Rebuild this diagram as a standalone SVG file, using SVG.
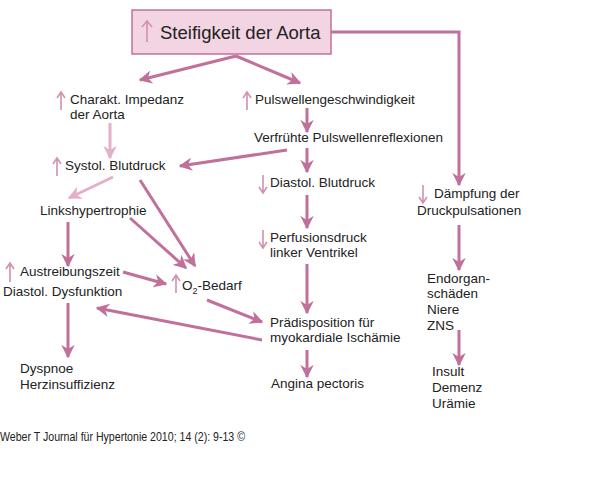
<svg xmlns="http://www.w3.org/2000/svg" width="600" height="487" viewBox="0 0 600 487">
<defs>
<marker id="ah" viewBox="0 0 10 10" refX="9" refY="5" markerWidth="4.5" markerHeight="4.5" orient="auto" markerUnits="strokeWidth"><path d="M0,0 L10,5 L0,10 L3,5 Z" fill="#c0709a"/></marker>
<marker id="ahl" viewBox="0 0 10 10" refX="9" refY="5" markerWidth="4.5" markerHeight="4.5" orient="auto" markerUnits="strokeWidth"><path d="M0,0 L10,5 L0,10 L3,5 Z" fill="#e2b0c8"/></marker>
<style>
text{font-family:"Liberation Sans",Arial,sans-serif;font-size:13.5px;fill:#222}
.c line,.c polyline{stroke:#c0709a;stroke-width:3;fill:none;marker-end:url(#ah)}
.c .l{stroke:#e2b0c8;marker-end:url(#ahl)}
.up,.dn{stroke:#d490b0;stroke-width:1.6;fill:none}
</style>
</defs>
<rect width="600" height="487" fill="#fff"/>
<g id="n-aorta">
<rect x="132" y="10" width="199" height="44" fill="#f2d4e2" stroke="#c0709a" stroke-width="1.5"/>
<path class="up" d="M147,42 V22 M142,27 L147,21 L152,27" stroke-width="2"/>
<text x="160" y="39" style="font-size:18.5px">Steifigkeit der Aorta</text>
</g>
<g id="n-impedanz"><path class="up" d="M61,110 V93 M57,98 L61,92 L65,98"/><text x="70" y="104">Charakt. Impedanz</text><text x="70" y="119">der Aorta</text></g>
<g id="n-pwv"><path class="up" d="M247,110 V93 M243,98 L247,92 L251,98"/><text x="255" y="104">Pulswellengeschwindigkeit</text></g>
<g id="n-reflex"><text x="254" y="142">Verfrühte Pulswellenreflexionen</text></g>
<g id="n-systol"><path class="up" d="M57,176 V159 M53,164 L57,158 L61,164"/><text x="65" y="170">Systol. Blutdruck</text></g>
<g id="n-diastol"><path class="dn" d="M263,175 V192 M259,187 L263,193 L267,187"/><text x="270" y="187">Diastol. Blutdruck</text></g>
<g id="n-lvh"><text x="40" y="215">Linkshypertrophie</text></g>
<g id="n-daempf"><path class="dn" d="M423,185 V202 M419,197 L423,203 L427,197"/><text x="434" y="198">Dämpfung der</text><text x="417" y="215">Druckpulsationen</text></g>
<g id="n-perf"><path class="dn" d="M263,230 V247 M259,242 L263,248 L267,242"/><text x="270" y="242">Perfusionsdruck</text><text x="270" y="257">linker Ventrikel</text></g>
<g id="n-austr"><path class="up" d="M10,282 V264 M6,269 L10,263 L14,269"/><text x="20" y="276">Austreibungszeit</text><text x="3" y="296">Diastol. Dysfunktion</text></g>
<g id="n-o2"><path class="up" d="M176,293 V276 M172,281 L176,275 L180,281"/><text x="182" y="290">O<tspan dy="4" style="font-size:9px">2</tspan><tspan dy="-4">-Bedarf</tspan></text></g>
<g id="n-praed"><text x="270" y="327">Prädisposition für</text><text x="270" y="342">myokardiale Ischämie</text></g>
<g id="n-endorgan"><text x="427" y="283">Endorgan-</text><text x="427" y="298">schäden</text><text x="427" y="314">Niere</text><text x="427" y="330">ZNS</text></g>
<g id="n-dyspnoe"><text x="20" y="373">Dyspnoe</text><text x="20" y="389">Herzinsuffizienz</text></g>
<g id="n-angina"><text x="271" y="388">Angina pectoris</text></g>
<g id="n-insult"><text x="432" y="376">Insult</text><text x="432" y="392">Demenz</text><text x="432" y="408">Urämie</text></g>
<g class="c" id="connectors">
<line x1="236" y1="56" x2="140" y2="80"/>
<line x1="236" y1="56" x2="300" y2="83"/>
<polyline points="331,32 459,32 459,185"/>
<line x1="307" y1="108" x2="307" y2="132"/>
<line class="l" x1="110" y1="123" x2="110" y2="158"/>
<line x1="287" y1="150" x2="180" y2="166"/>
<line x1="307" y1="148" x2="307" y2="172"/>
<line class="l" x1="113" y1="177" x2="69" y2="198"/>
<line x1="307" y1="195" x2="307" y2="228"/>
<line x1="459" y1="225" x2="459" y2="270"/>
<line x1="68" y1="222" x2="68" y2="266"/>
<line x1="130" y1="218" x2="186" y2="268"/>
<line x1="140" y1="180" x2="195" y2="266"/>
<line x1="123" y1="272" x2="166" y2="284"/>
<line x1="207" y1="300" x2="262" y2="322"/>
<line x1="262" y1="340" x2="97" y2="308"/>
<line x1="307" y1="264" x2="307" y2="313"/>
<line x1="307" y1="350" x2="307" y2="377"/>
<line x1="68" y1="303" x2="68" y2="357"/>
<line x1="459" y1="330" x2="459" y2="365"/>
</g>
<text x="0" y="441" textLength="245" lengthAdjust="spacingAndGlyphs" style="font-size:12px">Weber T Journal für Hypertonie 2010; 14 (2): 9-13 ©</text>
</svg>
